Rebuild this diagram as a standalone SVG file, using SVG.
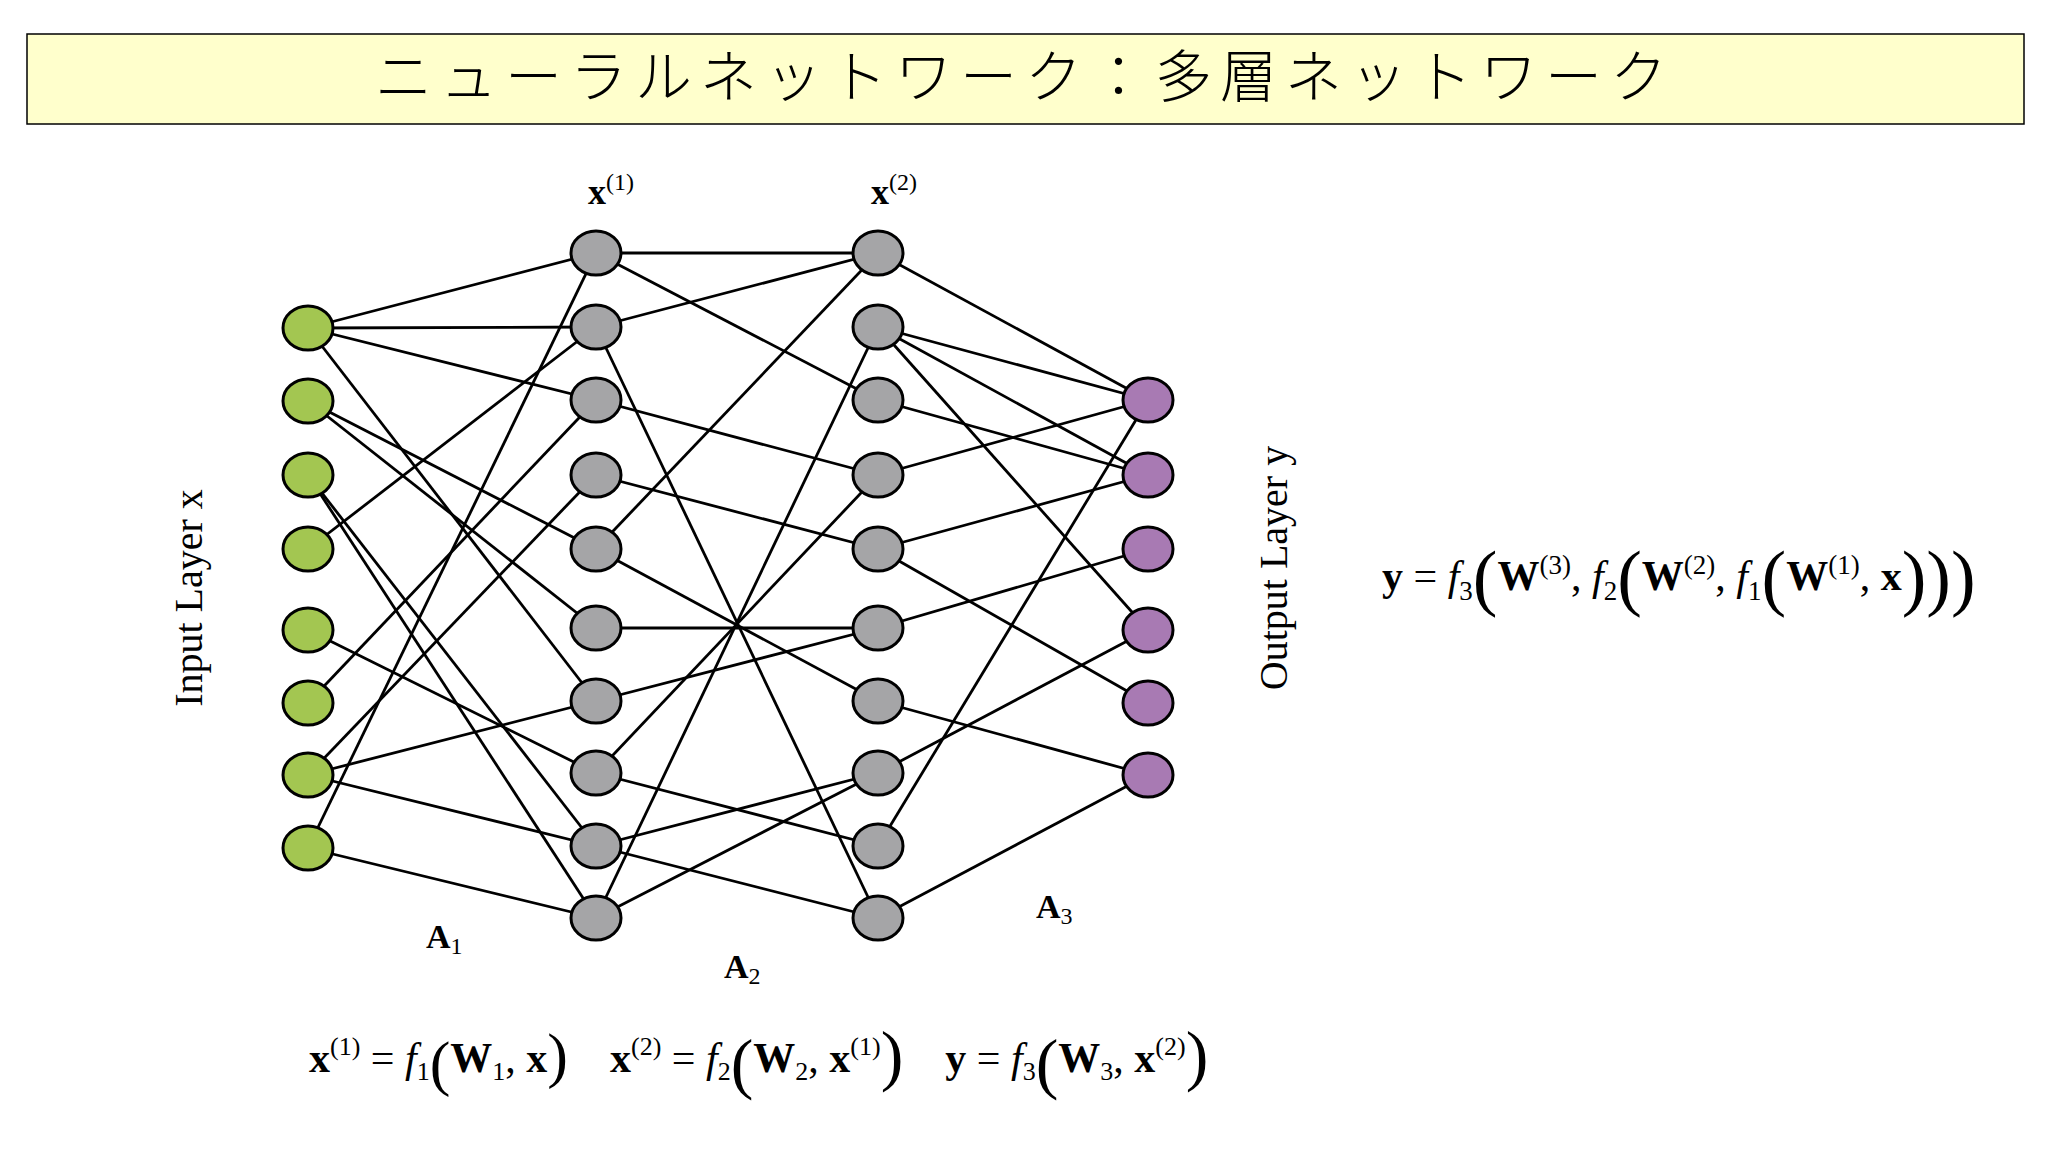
<svg xmlns="http://www.w3.org/2000/svg" width="2048" height="1152" viewBox="0 0 2048 1152">
<style>
.e{stroke:#000;stroke-width:2.8;fill:none}
.n{stroke:#000;stroke-width:3}
.in{fill:#a3c651}.hd{fill:#a5a5a7}.out{fill:#a87ab3}
.t{font-family:"Liberation Serif",serif;fill:#000}
.b{font-weight:bold}
.i{font-style:italic}
</style>
<rect width="2048" height="1152" fill="#fff"/>
<g id="title">
<rect x="27" y="34" width="1997" height="90" fill="#ffffcc" stroke="#000" stroke-width="1.5"/>
<text x="1025" y="97" text-anchor="middle" font-family="'Noto Sans CJK JP',sans-serif" font-size="57" font-weight="300" letter-spacing="8">ニューラルネットワーク：多層ネットワーク</text>
</g>
<g id="connectors">
<line class="e" x1="308" y1="328" x2="596" y2="253"/>
<line class="e" x1="308" y1="328" x2="596" y2="327"/>
<line class="e" x1="308" y1="328" x2="596" y2="400"/>
<line class="e" x1="308" y1="328" x2="596" y2="701"/>
<line class="e" x1="308" y1="401" x2="596" y2="549"/>
<line class="e" x1="308" y1="401" x2="596" y2="628"/>
<line class="e" x1="308" y1="475" x2="596" y2="846"/>
<line class="e" x1="308" y1="475" x2="596" y2="918"/>
<line class="e" x1="308" y1="549" x2="596" y2="327"/>
<line class="e" x1="308" y1="630" x2="596" y2="773"/>
<line class="e" x1="308" y1="703" x2="596" y2="400"/>
<line class="e" x1="308" y1="775" x2="596" y2="475"/>
<line class="e" x1="308" y1="775" x2="596" y2="701"/>
<line class="e" x1="308" y1="775" x2="596" y2="846"/>
<line class="e" x1="308" y1="848" x2="596" y2="253"/>
<line class="e" x1="308" y1="848" x2="596" y2="918"/>
<line class="e" x1="596" y1="253" x2="878" y2="253"/>
<line class="e" x1="596" y1="253" x2="878" y2="400"/>
<line class="e" x1="596" y1="327" x2="878" y2="253"/>
<line class="e" x1="596" y1="327" x2="878" y2="918"/>
<line class="e" x1="596" y1="400" x2="878" y2="475"/>
<line class="e" x1="596" y1="475" x2="878" y2="549"/>
<line class="e" x1="596" y1="549" x2="878" y2="253"/>
<line class="e" x1="596" y1="549" x2="878" y2="701"/>
<line class="e" x1="596" y1="628" x2="878" y2="628"/>
<line class="e" x1="596" y1="701" x2="878" y2="628"/>
<line class="e" x1="596" y1="773" x2="878" y2="475"/>
<line class="e" x1="596" y1="773" x2="878" y2="846"/>
<line class="e" x1="596" y1="846" x2="878" y2="773"/>
<line class="e" x1="596" y1="846" x2="878" y2="918"/>
<line class="e" x1="596" y1="918" x2="878" y2="327"/>
<line class="e" x1="596" y1="918" x2="878" y2="773"/>
<line class="e" x1="878" y1="253" x2="1148" y2="400"/>
<line class="e" x1="878" y1="327" x2="1148" y2="400"/>
<line class="e" x1="878" y1="327" x2="1148" y2="475"/>
<line class="e" x1="878" y1="327" x2="1148" y2="630"/>
<line class="e" x1="878" y1="400" x2="1148" y2="475"/>
<line class="e" x1="878" y1="475" x2="1148" y2="400"/>
<line class="e" x1="878" y1="549" x2="1148" y2="475"/>
<line class="e" x1="878" y1="549" x2="1148" y2="703"/>
<line class="e" x1="878" y1="628" x2="1148" y2="549"/>
<line class="e" x1="878" y1="701" x2="1148" y2="775"/>
<line class="e" x1="878" y1="773" x2="1148" y2="630"/>
<line class="e" x1="878" y1="846" x2="1148" y2="400"/>
<line class="e" x1="878" y1="918" x2="1148" y2="775"/>
</g>
<g id="input-nodes" class="n in">
<ellipse id="i1" cx="308" cy="328" rx="25" ry="22"/>
<ellipse id="i2" cx="308" cy="401" rx="25" ry="22"/>
<ellipse id="i3" cx="308" cy="475" rx="25" ry="22"/>
<ellipse id="i4" cx="308" cy="549" rx="25" ry="22"/>
<ellipse id="i5" cx="308" cy="630" rx="25" ry="22"/>
<ellipse id="i6" cx="308" cy="703" rx="25" ry="22"/>
<ellipse id="i7" cx="308" cy="775" rx="25" ry="22"/>
<ellipse id="i8" cx="308" cy="848" rx="25" ry="22"/>
</g>
<g id="hidden1-nodes" class="n hd">
<ellipse id="h1" cx="596" cy="253" rx="25" ry="22"/>
<ellipse id="h2" cx="596" cy="327" rx="25" ry="22"/>
<ellipse id="h3" cx="596" cy="400" rx="25" ry="22"/>
<ellipse id="h4" cx="596" cy="475" rx="25" ry="22"/>
<ellipse id="h5" cx="596" cy="549" rx="25" ry="22"/>
<ellipse id="h6" cx="596" cy="628" rx="25" ry="22"/>
<ellipse id="h7" cx="596" cy="701" rx="25" ry="22"/>
<ellipse id="h8" cx="596" cy="773" rx="25" ry="22"/>
<ellipse id="h9" cx="596" cy="846" rx="25" ry="22"/>
<ellipse id="h10" cx="596" cy="918" rx="25" ry="22"/>
</g>
<g id="hidden2-nodes" class="n hd">
<ellipse id="g1" cx="878" cy="253" rx="25" ry="22"/>
<ellipse id="g2" cx="878" cy="327" rx="25" ry="22"/>
<ellipse id="g3" cx="878" cy="400" rx="25" ry="22"/>
<ellipse id="g4" cx="878" cy="475" rx="25" ry="22"/>
<ellipse id="g5" cx="878" cy="549" rx="25" ry="22"/>
<ellipse id="g6" cx="878" cy="628" rx="25" ry="22"/>
<ellipse id="g7" cx="878" cy="701" rx="25" ry="22"/>
<ellipse id="g8" cx="878" cy="773" rx="25" ry="22"/>
<ellipse id="g9" cx="878" cy="846" rx="25" ry="22"/>
<ellipse id="g10" cx="878" cy="918" rx="25" ry="22"/>
</g>
<g id="output-nodes" class="n out">
<ellipse id="o1" cx="1148" cy="400" rx="25" ry="22"/>
<ellipse id="o2" cx="1148" cy="475" rx="25" ry="22"/>
<ellipse id="o3" cx="1148" cy="549" rx="25" ry="22"/>
<ellipse id="o4" cx="1148" cy="630" rx="25" ry="22"/>
<ellipse id="o5" cx="1148" cy="703" rx="25" ry="22"/>
<ellipse id="o6" cx="1148" cy="775" rx="25" ry="22"/>
</g>
<g id="labels">
<text class="t b" x="588" y="204" font-size="36">x<tspan font-size="24" font-weight="normal" dy="-14">(1)</tspan></text>
<text class="t b" x="871" y="204" font-size="36">x<tspan font-size="24" font-weight="normal" dy="-14">(2)</tspan></text>
<text class="t" transform="translate(202,598) rotate(-90)" text-anchor="middle" font-size="40">Input Layer x</text>
<text class="t" transform="translate(1287,568) rotate(-90)" text-anchor="middle" font-size="40">Output Layer y</text>
<text class="t b" x="426" y="948" font-size="34">A<tspan font-size="24" font-weight="normal" dy="6">1</tspan></text>
<text class="t b" x="724" y="978" font-size="34">A<tspan font-size="24" font-weight="normal" dy="6">2</tspan></text>
<text class="t b" x="1036" y="918" font-size="34">A<tspan font-size="24" font-weight="normal" dy="6">3</tspan></text>
</g>
<g id="eq-right" class="t" font-size="42">
<text x="1382" y="590"><tspan class="b">y</tspan> = <tspan class="i">f</tspan><tspan font-size="27" dy="10">3</tspan><tspan font-size="74" dy="2">(</tspan><tspan class="b" dy="-12">W</tspan><tspan font-size="27" dy="-16">(3)</tspan><tspan dy="16">, </tspan><tspan class="i">f</tspan><tspan font-size="27" dy="10">2</tspan><tspan font-size="74" dy="2">(</tspan><tspan class="b" dy="-12">W</tspan><tspan font-size="27" dy="-16">(2)</tspan><tspan dy="16">, </tspan><tspan class="i">f</tspan><tspan font-size="27" dy="10">1</tspan><tspan font-size="74" dy="2">(</tspan><tspan class="b" dy="-12">W</tspan><tspan font-size="27" dy="-16">(1)</tspan><tspan dy="16">, </tspan><tspan class="b">x</tspan><tspan font-size="74" dy="12">)))</tspan></text>
</g>
<g id="eq-bottom" class="t" font-size="42">
<text x="309" y="1072" xml:space="preserve"><tspan class="b">x</tspan><tspan font-size="26" dy="-17">(1)</tspan><tspan dy="17"> = </tspan><tspan class="i">f</tspan><tspan font-size="26" dy="8">1</tspan><tspan font-size="62" dy="4">(</tspan><tspan class="b" dy="-12">W</tspan><tspan font-size="26" dy="8">1</tspan><tspan dy="-8">, </tspan><tspan class="b">x</tspan><tspan font-size="62" dy="4">)</tspan><tspan dy="-4">    </tspan><tspan class="b">x</tspan><tspan font-size="26" dy="-17">(2)</tspan><tspan dy="17"> = </tspan><tspan class="i">f</tspan><tspan font-size="26" dy="8">2</tspan><tspan font-size="68" dy="6">(</tspan><tspan class="b" dy="-14">W</tspan><tspan font-size="26" dy="8">2</tspan><tspan dy="-8">, </tspan><tspan class="b">x</tspan><tspan font-size="26" dy="-17">(1)</tspan><tspan font-size="68" dy="23">)</tspan><tspan dy="-6">    </tspan><tspan class="b">y</tspan> = <tspan class="i">f</tspan><tspan font-size="26" dy="8">3</tspan><tspan font-size="68" dy="6">(</tspan><tspan class="b" dy="-14">W</tspan><tspan font-size="26" dy="8">3</tspan><tspan dy="-8">, </tspan><tspan class="b">x</tspan><tspan font-size="26" dy="-17">(2)</tspan><tspan font-size="68" dy="23">)</tspan></text>
</g>
</svg>
